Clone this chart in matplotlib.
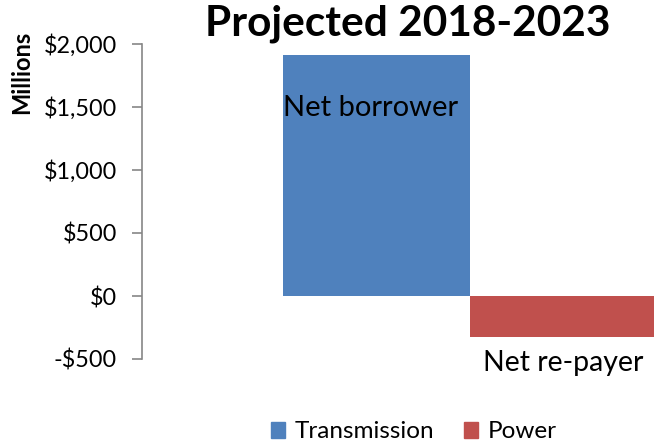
import matplotlib.pyplot as plt
from matplotlib.patches import Patch

series = ["Transmission", "Power"]
values = [1910, -325]
colors = ["#4F81BD", "#C0504D"]
bar_notes = ["Net borrower", "Net re-payer"]
yticks = [-500, 0, 500, 1000, 1500, 2000]
ytick_labels = ["-$500", "$0", "$500", "$1,000", "$1,500", "$2,000"]

plt.rcParams["font.family"] = ["Lato", "DejaVu Sans"]

W, H = 654, 445
fig = plt.figure(figsize=(W / 100, H / 100), dpi=100)

# plot area in pixels: left spine at 142, y=2000 at 44, y=-500 at 359
left, right = 142, 654
top, bottom = 44, 359
ax = fig.add_axes([left / W, 1 - bottom / H, (right - left) / W, (bottom - top) / H])

width = 0.285
offsets = [-width / 2, width / 2]
for s, v, c, o in zip(series, values, colors, offsets):
    ax.bar(o, v, width=width, color=c, label=s)

ax.set_ylim(-500, 2000)
ax.set_xlim(-0.5, -0.5 + (right - left) / 656)
ax.set_yticks(yticks)
ax.set_yticklabels(ytick_labels, fontsize=16.8)
ax.set_xticks([])

for side in ["top", "right", "bottom"]:
    ax.spines[side].set_visible(False)
ax.spines["left"].set_color("#868686")
ax.spines["left"].set_linewidth(1.2)
ax.tick_params(axis="y", color="#868686", length=7, width=1.2, pad=11)

# annotations on the bars
ax.text(offsets[0] - width / 2, 1490, bar_notes[0], fontsize=21, ha="left", va="center")
ax.text(offsets[1], -530, bar_notes[1], fontsize=20.5, ha="center", va="center")

fig.text(408 / W, 1 - 24 / H, "Projected 2018-2023", fontsize=30.5, fontweight="bold",
         ha="center", va="center")
fig.text(22 / W, 1 - 72 / H, "Millions", fontsize=17, fontweight="bold",
         rotation=90, ha="center", va="center")

handles = [Patch(color=c, label=s) for s, c in zip(series, colors)]
fig.legend(handles=handles, loc="center", bbox_to_anchor=(414 / W, 1 - 432 / H),
           ncol=2, frameon=False, fontsize=17.5, handlelength=0.6, handleheight=0.6,
           handletextpad=0.4, columnspacing=1.2)

fig.savefig("out.png", dpi=100)
